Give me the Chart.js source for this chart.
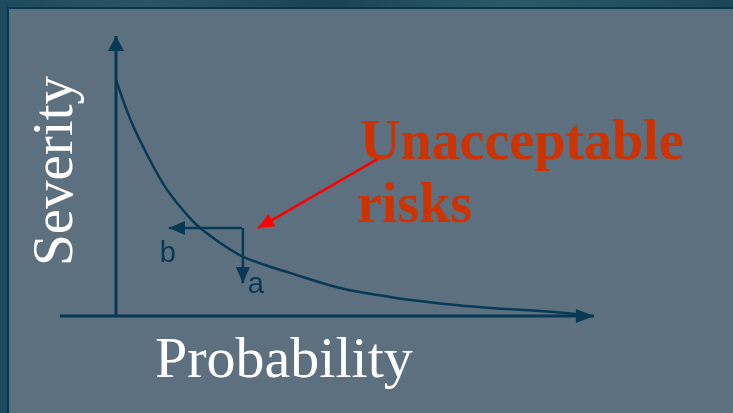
<!DOCTYPE html>
<html>
<head>
<meta charset="utf-8">
<script src="https://cdn.jsdelivr.net/npm/chart.js@4"></script>
<style>
  html, body { margin: 0; padding: 0; }
  body {
    width: 733px; height: 413px; overflow: hidden; position: relative;
    background: linear-gradient(90deg, #1d4a5c 0%, #2a5565 20%, #1a4456 45%, #2b5a66 70%, #1b4658 100%);
  }
  #panel {
    position: absolute; left: 7px; top: 7px; width: 724px; height: 404px;
    background: #5d7080;
    border-left: 2px solid #073650; border-top: 2px solid #073650;
  }
  #chart { position: absolute; left: 0; top: 0; }
</style>
</head>
<body>
<div id="panel"></div>
<canvas id="chart" width="733" height="413"></canvas>
<script>
// severity / probability curve (abstract units)
var curveX = [0, 0.13, 0.27, 0.56, 0.91, 1.40, 1.56, 1.93, 2.33, 2.76, 3.22, 4.15, 5.07, 6.00, 6.93, 7.85, 8.50, 8.78];
var curveY = [8.43, 7.71, 7.00, 5.82, 4.61, 3.43, 3.14, 2.61, 2.14, 1.82, 1.54, 1.00, 0.68, 0.45, 0.29, 0.18, 0.07, 0.0];

// axis arrows
var yAxisX = [0, 0];
var yAxisY = [0, 10];
var xAxisX = [-1.04, 8.85];
var xAxisY = [0, 0];

// the two small arrows from the point on the curve
var bArrowX = [2.33, 0.98];
var bArrowY = [3.14, 3.14];
var aArrowX = [2.35, 2.35];
var aArrowY = [3.14, 1.18];

// red pointer from the label
var redX = [4.85, 2.63];
var redY = [5.61, 3.14];

var navy = "#073854";

function pts(xs, ys) {
  return xs.map(function (x, i) { return { x: x, y: ys[i] }; });
}

var arrowHeads = {
  id: "arrowHeads",
  afterDatasetsDraw: function (chart) {
    var ctx = chart.ctx;
    chart.data.datasets.forEach(function (ds, i) {
      if (!ds.arrowHead) return;
      var els = chart.getDatasetMeta(i).data;
      var p1 = els[els.length - 2], p2 = els[els.length - 1];
      var ang = Math.atan2(p2.y - p1.y, p2.x - p1.x);
      var L = ds.arrowHead[0], H = ds.arrowHead[1];
      ctx.save();
      ctx.translate(p2.x, p2.y);
      ctx.rotate(ang);
      ctx.beginPath();
      ctx.moveTo(0, 0);
      ctx.lineTo(-L, -H);
      ctx.lineTo(-L, H);
      ctx.closePath();
      ctx.fillStyle = ds.borderColor;
      ctx.fill();
      ctx.restore();
    });
  }
};

// a and b labels sit in data units next to their arrows
var smallLabels = [["b", 0.81, 1.93], ["a", 2.44, 0.82]];

var texts = {
  id: "texts",
  afterDraw: function (chart) {
    var ctx = chart.ctx;
    var xs = chart.scales.x, ys = chart.scales.y;
    ctx.save();
    ctx.textBaseline = "alphabetic";
    ctx.fillStyle = navy;
    ctx.font = "29px 'Liberation Sans', Arial, sans-serif";
    ctx.textAlign = "left";
    smallLabels.forEach(function (l) {
      ctx.fillText(l[0], xs.getPixelForValue(l[1]), ys.getPixelForValue(l[2]));
    });

    ctx.fillStyle = "#ffffff";
    ctx.font = "58px 'Liberation Serif', 'Times New Roman', serif";
    ctx.fillText("Probability", 155, 377);

    ctx.save();
    ctx.translate(72, 171);
    ctx.rotate(-Math.PI / 2);
    ctx.textAlign = "center";
    ctx.font = "57px 'Liberation Serif', 'Times New Roman', serif";
    ctx.fillText("Severity", 0, 0);
    ctx.restore();

    ctx.fillStyle = "#cc3300";
    ctx.font = "bold 56px 'Liberation Serif', 'Times New Roman', serif";
    ctx.fillText("Unacceptable", 360, 159);
    ctx.fillText("risks", 357, 222);
    ctx.restore();
  }
};

var ctx = document.getElementById("chart");
var riskChart = new Chart(ctx, {
  type: "line",
  data: {
    datasets: [
      { data: pts(yAxisX, yAxisY), borderColor: navy, borderWidth: 3, arrowHead: [15, 8] },
      { data: pts(xAxisX, xAxisY), borderColor: navy, borderWidth: 3, arrowHead: [18, 7] },
      { data: pts(curveX, curveY), borderColor: navy, borderWidth: 2.5, cubicInterpolationMode: "monotone" },
      { data: pts(bArrowX, bArrowY), borderColor: navy, borderWidth: 2.5, arrowHead: [16, 7] },
      { data: pts(aArrowX, aArrowY), borderColor: navy, borderWidth: 2.5, arrowHead: [16, 7] },
      { data: pts(redX, redY), borderColor: "#ff0000", borderWidth: 2.5, arrowHead: [16, 7] }
    ]
  },
  options: {
    responsive: false,
    animation: false,
    clip: false,
    layout: { padding: { left: 62, right: 131, top: 36, bottom: 97 } },
    elements: { point: { radius: 0 }, line: { fill: false } },
    scales: {
      x: { type: "linear", min: -1, max: 9, display: false },
      y: { type: "linear", min: 0, max: 10, display: false }
    },
    plugins: { legend: { display: false }, tooltip: { enabled: false } }
  },
  plugins: [arrowHeads, texts]
});
</script>
</body>
</html>
